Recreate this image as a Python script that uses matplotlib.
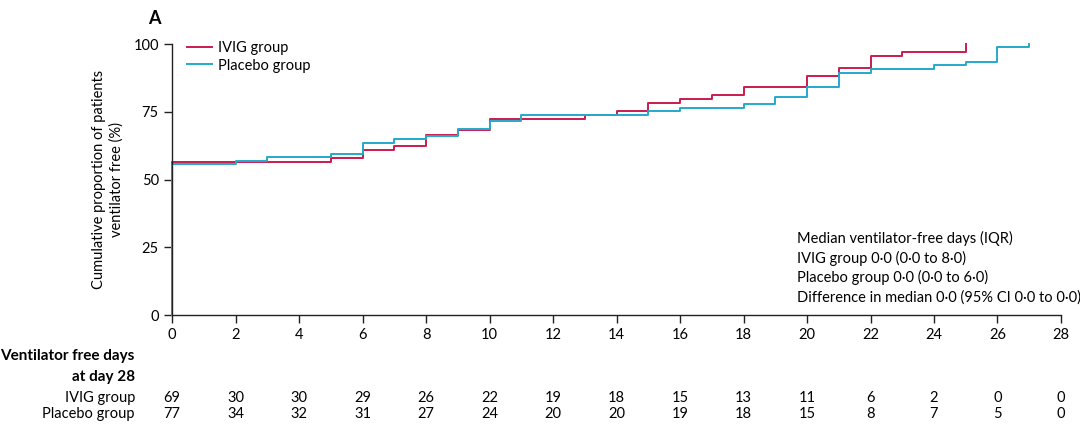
import matplotlib.pyplot as plt

plt.rcParams['font.family'] = ['Lato', 'DejaVu Sans']

# step curves (day, cumulative % ventilator free)
ivig_days = [0, 0, 5, 6, 7, 8, 9, 10, 13, 14, 15, 16, 17, 18, 20, 21, 22, 23, 25, 25]
ivig_pct = [0, 56.5, 57.9, 60.8, 62.2, 66.5, 68.3, 72.2, 73.8, 75.4, 78.3, 79.6,
            81.0, 84.0, 88.3, 91.1, 95.7, 96.9, 96.9, 100]
placebo_days = [0, 0, 2, 3, 5, 6, 7, 8, 9, 10, 11, 15, 16, 18, 19, 20, 21, 22, 24, 25, 26, 27, 27]
placebo_pct = [0, 55.8, 56.9, 58.3, 59.5, 63.5, 64.9, 66.1, 68.6, 71.5, 73.9, 75.3,
               76.5, 77.9, 80.6, 84.1, 89.4, 90.6, 92.1, 93.2, 98.8, 98.8, 100]

# number table under the axis
table_days = list(range(0, 29, 2))
ivig_counts = [69, 30, 30, 29, 26, 22, 19, 18, 15, 13, 11, 6, 2, 0, 0]
placebo_counts = [77, 34, 32, 31, 27, 24, 20, 20, 19, 18, 15, 8, 7, 5, 0]

annot_lines = ["Median ventilator-free days (IQR)",
               "IVIG group 0\u00b70 (0\u00b70 to 8\u00b70)",
               "Placebo group 0\u00b70 (0\u00b70 to 6\u00b70)",
               "Difference in median 0\u00b70 (95% CI 0\u00b70 to 0\u00b70)"]

red = '#C91B4E'
blue = '#25A9CA'
fs = 10.5

fig = plt.figure(figsize=(10.8, 4.44), dpi=100)
ax = fig.add_axes([0.1593, 0.2905, 0.8231, 0.6104])

ax.plot(ivig_days, ivig_pct, drawstyle='steps-post', color=red, lw=1.4,
        label='IVIG group', clip_on=False)
ax.plot(placebo_days, placebo_pct, drawstyle='steps-post', color=blue, lw=1.4,
        label='Placebo group', clip_on=False)

ax.set_xlim(0, 28)
ax.set_ylim(0, 100)
ax.set_xticks(table_days)
ax.set_yticks([0, 25, 50, 75, 100])
ax.tick_params(direction='out', length=6, width=1, labelsize=fs, color='#222222')
ax.tick_params(axis='x', pad=3)
for s in ['top', 'right']:
    ax.spines[s].set_visible(False)
for s in ['left', 'bottom']:
    ax.spines[s].set_color('#222222')
    ax.spines[s].set_linewidth(1)

ax.set_ylabel('Cumulative proportion of patients\nventilator free (%)', fontsize=fs,
              labelpad=7, linespacing=1.3)

ax.legend(loc='upper left', bbox_to_anchor=(0.002, 1.06), frameon=False, fontsize=fs,
          handlelength=1.7, handletextpad=0.45, labelspacing=0.25)

for i, line in enumerate(annot_lines):
    ax.text(19.7, 28.3 - i * 7.3, line, fontsize=fs, ha='left', va='center')

fig.text(148 / 1080, 1 - 18 / 444, 'A', fontsize=13, fontweight='bold', va='center', ha='left')

tr = ax.get_xaxis_transform()
ax.text(-1.17, -0.151, 'Ventilator free days', transform=tr, ha='right', va='center',
        fontsize=fs + 0.5, fontweight='bold', clip_on=False)
ax.text(-1.17, -0.229, 'at day 28', transform=tr, ha='right', va='center',
        fontsize=fs + 0.5, fontweight='bold', clip_on=False)
ax.text(-1.17, -0.306, 'IVIG group', transform=tr, ha='right', va='center', fontsize=fs)
ax.text(-1.17, -0.365, 'Placebo group', transform=tr, ha='right', va='center', fontsize=fs)
for d, a, b in zip(table_days, ivig_counts, placebo_counts):
    ax.text(d, -0.306, str(a), transform=tr, ha='center', va='center', fontsize=fs)
    ax.text(d, -0.365, str(b), transform=tr, ha='center', va='center', fontsize=fs)

fig.savefig('out.png', dpi=100)
